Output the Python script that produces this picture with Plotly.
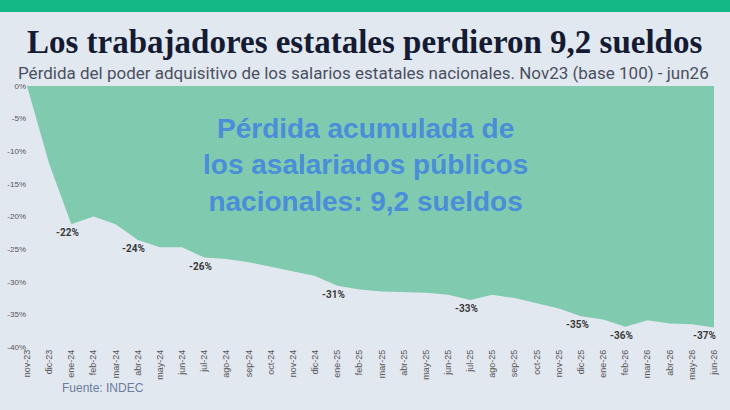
import plotly.graph_objects as go

# Meses (nov23 = base 100)
meses = [
    "nov-23", "dic-23", "ene-24", "feb-24", "mar-24", "abr-24", "may-24", "jun-24",
    "jul-24", "ago-24", "sep-24", "oct-24", "nov-24", "dic-24", "ene-25", "feb-25",
    "mar-25", "abr-25", "may-25", "jun-25", "jul-25", "ago-25", "sep-25", "oct-25",
    "nov-25", "dic-25", "ene-26", "feb-26", "mar-26", "abr-26", "may-26", "jun-26",
]

# Pérdida acumulada del salario real (%)
perdida = [
    0.0, -11.9, -21.2, -20.0, -21.2, -23.6, -24.7, -24.7,
    -26.3, -26.5, -27.0, -27.7, -28.4, -29.1, -30.6, -31.2,
    -31.5, -31.6, -31.7, -32.0, -32.8, -32.0, -32.5, -33.3,
    -34.1, -35.3, -35.8, -36.9, -35.9, -36.4, -36.5, -37.0,
]

# Etiquetas destacadas
meses_etiqueta = ["ene-24", "abr-24", "jul-24", "ene-25", "jul-25", "dic-25", "feb-26", "jun-26"]
textos_etiqueta = ["-22%", "-24%", "-26%", "-31%", "-33%", "-35%", "-36%", "-37%"]

ticks_y = [0, -5, -10, -15, -20, -25, -30, -35, -40]

# geometría del área de trazado (px)
X0, X1, Y0, Y1 = 27, 714.3, 86, 346.7


def px(x):
    return (x - X0) / (X1 - X0)


def py(y):
    return (Y1 - y) / (Y1 - Y0)


fig = go.Figure()

fig.add_trace(go.Scatter(
    x=meses,
    y=perdida,
    mode="lines",
    line=dict(width=0, color="#80CBB0"),
    fill="tozeroy",
    fillcolor="#80CBB0",
    hoverinfo="skip",
))

for mes, texto in zip(meses_etiqueta, textos_etiqueta):
    fig.add_annotation(
        x=mes, y=perdida[meses.index(mes)],
        text=f"<b>{texto}</b>",
        showarrow=False,
        yanchor="top", yshift=-1,
        xshift=-10 if mes == "jun-26" else -4,
        font=dict(family="Roboto, Arial, sans-serif", size=10, color="#3A3A3A"),
    )

# Texto central
fig.add_annotation(
    xref="paper", yref="paper",
    x=px(366), y=py(165),
    xanchor="center", yanchor="middle",
    text="<b>Pérdida acumulada de<br>los asalariados públicos<br>nacionales: 9,2 sueldos</b>",
    showarrow=False,
    align="center",
    font=dict(family="Liberation Sans, Arial, sans-serif", size=28, color="#4A8DD8"),
)

# Título y subtítulo
fig.add_annotation(
    xref="paper", yref="paper",
    x=px(365), y=py(42),
    xanchor="center", yanchor="middle",
    text="<b>Los trabajadores estatales perdieron 9,2 sueldos</b>",
    showarrow=False,
    font=dict(family="Liberation Serif, serif", size=33, color="#141B33"),
)
fig.add_annotation(
    xref="paper", yref="paper",
    x=px(364), y=py(73),
    xanchor="center", yanchor="middle",
    text="Pérdida del poder adquisitivo de los salarios estatales nacionales. Nov23 (base 100) - jun26",
    showarrow=False,
    font=dict(family="Roboto, Arial, sans-serif", size=17, color="#4A5060"),
)
fig.add_annotation(
    xref="paper", yref="paper",
    x=px(60), y=py(388),
    xanchor="left", yanchor="middle",
    text="Fuente: INDEC",
    showarrow=False,
    font=dict(family="Liberation Sans, Arial, sans-serif", size=12, color="#6A7D9C"),
)

# Franja verde superior
fig.add_shape(
    type="rect", xref="paper", yref="paper",
    x0=-1, x1=2, y0=py(12), y1=py(-20),
    fillcolor="#13B886", line=dict(width=0), layer="above",
)

fig.update_layout(
    width=730, height=410,
    margin=dict(l=X0, r=730 - X1, t=Y0, b=410 - Y1, autoexpand=False),
    paper_bgcolor="#E2E8F0",
    plot_bgcolor="#E2E8F0",
    showlegend=False,
    xaxis=dict(
        type="category",
        range=[0, len(meses) - 1],
        tickangle=-90,
        tickfont=dict(family="Liberation Sans, Arial, sans-serif", size=9, color="#555555"),
        showgrid=False, zeroline=False, showline=False,
        ticks="", ticklen=3, automargin=False,
        fixedrange=True,
    ),
    yaxis=dict(
        range=[-40, 0],
        tickvals=ticks_y,
        ticktext=[f"{v}%" for v in ticks_y],
        tickfont=dict(family="Liberation Sans, Arial, sans-serif", size=8, color="#555555"),
        showgrid=False, zeroline=False, showline=False,
        ticks="", automargin=False,
        fixedrange=True,
    ),
)

fig.write_html(
    "out.html",
    config={"displayModeBar": False},
    post_script="document.body.style.margin='0';",
)
